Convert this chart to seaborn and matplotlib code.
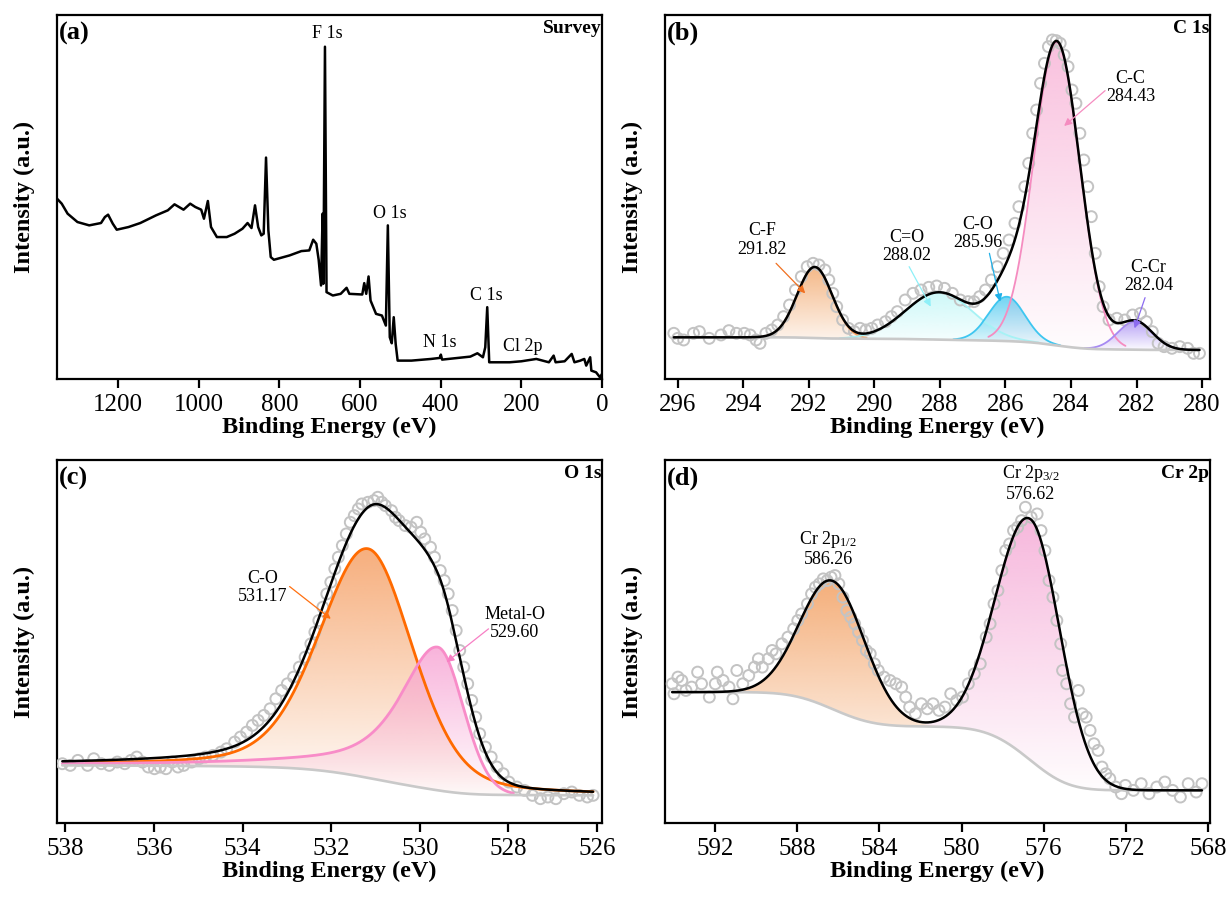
import numpy as np
import matplotlib
matplotlib.use("Agg")
import matplotlib.pyplot as plt
import matplotlib.colors as mcolors
from matplotlib.path import Path
from matplotlib.patches import PathPatch
import seaborn as sns

# ---------------- data ----------------
SURVEY_BE = [1351, 1339.3, 1324.7, 1300.3, 1271.1, 1241.9, 1232.2, 1224.3, 1212.7, 1202.9,
             1173.7, 1144.5, 1105.5, 1076.3, 1059.7, 1037.3, 1020.8, 1008.1, 993.5, 986.7,
             977.0, 969.2, 954.6, 930.2, 910.7, 891.2, 878.6, 868.8, 860.1, 852.3,
             844.5, 838.6, 832.8, 827.0, 821.1, 813.3, 774.4, 745.1, 725.6, 715.9,
             708.1, 702.3, 696.4, 692.5, 690.6, 686.7, 682.8, 667.2, 647.7, 633.1,
             626.3, 594.2, 589.3, 584.4, 578.6, 573.7, 560.1, 545.5, 535.7, 530.8,
             526.0, 521.1, 516.2, 511.4, 506.5, 472.4, 423.7, 402.3, 399.4, 396.4,
             326.3, 308.8, 295.1, 289.3, 284.4, 279.5, 228.9, 199.7, 162.7, 131.5,
             119.8, 114.9, 92.5, 75.0, 68.2, 53.6, 43.8, 39.0, 29.2, 26.3,
             14.6, 4.9, 0.0]
SURVEY_INT = [54.0, 52.5, 49.5, 47.0, 46.0, 46.7, 48.5, 49.2, 46.5, 44.7,
              45.5, 46.7, 49.0, 50.5, 52.3, 50.7, 52.5, 51.5, 50.7, 48.0,
              53.3, 45.5, 42.5, 42.5, 43.5, 45.0, 46.7, 45.2, 52.0, 45.5,
              43.0, 43.5, 66.3, 44.5, 36.5, 35.7, 37.0, 38.3, 38.5, 41.7,
              40.5, 35.7, 28.0, 49.5, 28.5, 99.5, 26.0, 25.0, 25.5, 27.3,
              25.5, 25.3, 28.7, 25.5, 30.7, 23.5, 19.5, 19.0, 16.0, 46.0,
              12.5, 10.7, 18.5, 10.5, 5.5, 5.5, 6.0, 6.3, 7.3, 5.8,
              6.7, 7.7, 6.5, 9.5, 21.5, 5.0, 5.0, 5.3, 6.0, 5.0,
              7.0, 5.0, 5.3, 7.5, 5.0, 5.5, 6.0, 4.0, 6.5, 2.5,
              2.0, 0.5, 1.5]
SURVEY_LABELS = ["F 1s", "O 1s", "C 1s", "N 1s", "Cl 2p"]

C1S_BE = [296.12, 296.00, 295.82, 295.52, 295.34, 295.04, 294.68, 294.44, 294.21, 293.97,
          293.79, 293.61, 293.49, 293.31, 293.13, 292.95, 292.77, 292.59, 292.41, 292.23,
          292.05, 291.87, 291.69, 291.51, 291.39, 291.27, 291.15, 290.97, 290.79, 290.61,
          290.44, 290.26, 290.08, 289.90, 289.66, 289.48, 289.30, 289.06, 288.82, 288.58,
          288.34, 288.10, 287.86, 287.62, 287.38, 287.14, 286.96, 286.79, 286.61, 286.43,
          286.25, 286.07, 285.89, 285.71, 285.59, 285.41, 285.29, 285.17, 285.05, 284.93,
          284.81, 284.69, 284.57, 284.45, 284.33, 284.21, 284.09, 283.97, 283.85, 283.73,
          283.61, 283.49, 283.38, 283.26, 283.14, 283.02, 282.84, 282.60, 282.36, 282.12,
          281.88, 281.70, 281.52, 281.34, 281.16, 280.92, 280.68, 280.44, 280.26, 280.08]
C1S_INT = [13.7, 12.2, 11.7, 13.7, 14.2, 12.2, 13.2, 14.5, 13.7, 13.7,
           13.2, 11.7, 10.7, 13.7, 14.7, 16.2, 18.7, 22.2, 26.7, 30.7,
           33.7, 34.7, 34.2, 32.7, 29.7, 25.7, 21.7, 17.7, 15.2, 14.2,
           15.2, 14.7, 15.2, 16.2, 17.2, 18.7, 20.2, 23.7, 25.7, 26.7,
           27.5, 27.9, 27.2, 25.7, 23.7, 23.2, 23.2, 24.7, 26.7, 29.7,
           33.7, 37.7, 41.7, 46.7, 51.7, 57.7, 64.7, 73.7, 80.7, 88.7,
           94.7, 99.7, 101.7, 101.5, 100.7, 97.2, 93.7, 86.7, 82.7, 73.7,
           65.7, 57.7, 48.7, 37.7, 27.7, 21.7, 17.7, 18.2, 17.7, 19.2,
           19.7, 17.2, 14.2, 10.7, 9.7, 9.2, 9.7, 9.2, 7.7, 7.7]
C1S_PEAKS = ["C-F", "C=O", "C-O", "C-C", "C-Cr"]
C1S_CENTER = [291.82, 288.02, 285.96, 284.43, 282.04]
C1S_HEIGHT = [21.3, 14.2, 13.3, 91.0, 8.5]
C1S_HWHM_HI = [0.63, 1.20, 0.65, 0.83, 0.62]
C1S_HWHM_LO = [0.63, 1.20, 0.65, 0.83, 0.62]
C1S_ETA_HI = [0.0, 0.0, 0.0, 0.0, 0.0]
C1S_ETA_LO = [0.0, 0.0, 0.0, 0.0, 0.0]
C1S_BACKGROUND = [12.5, 8.7]   # high-BE level, low-BE level

O1S_BE = [538.07, 537.89, 537.72, 537.50, 537.36, 537.19, 537.01, 536.83, 536.66, 536.52,
          536.39, 536.26, 536.13, 535.99, 535.86, 535.73, 535.59, 535.46, 535.33, 535.15,
          534.98, 534.84, 534.67, 534.49, 534.36, 534.18, 534.05, 533.91, 533.78, 533.65,
          533.52, 533.38, 533.25, 533.12, 532.99, 532.85, 532.72, 532.59, 532.46, 532.37,
          532.28, 532.19, 532.10, 532.01, 531.92, 531.84, 531.75, 531.66, 531.57, 531.48,
          531.39, 531.31, 531.17, 531.04, 530.95, 530.86, 530.78, 530.64, 530.55, 530.47,
          530.33, 530.20, 530.07, 529.98, 529.89, 529.76, 529.67, 529.54, 529.45, 529.36,
          529.27, 529.18, 529.10, 529.01, 528.92, 528.83, 528.74, 528.65, 528.52, 528.39,
          528.26, 528.12, 527.99, 527.81, 527.64, 527.46, 527.28, 527.11, 526.93, 526.75,
          526.57, 526.40, 526.22, 526.09]
O1S_INT = [17.8, 17.3, 18.8, 17.3, 19.3, 17.8, 17.3, 18.3, 17.8, 18.8,
           19.8, 18.3, 16.8, 16.3, 16.8, 16.3, 18.3, 16.8, 17.3, 18.3,
           19.3, 19.8, 20.3, 21.3, 22.3, 24.3, 25.8, 27.3, 29.3, 30.8,
           32.3, 34.3, 37.3, 39.8, 41.8, 43.8, 46.8, 49.8, 53.8, 57.3,
           60.8, 64.8, 68.8, 72.3, 76.3, 79.8, 83.3, 86.8, 90.3, 92.3,
           94.3, 95.8, 96.3, 96.8, 97.8, 96.3, 95.3, 93.8, 91.8, 90.8,
           89.3, 88.8, 90.3, 87.3, 85.3, 82.8, 79.8, 75.8, 72.8, 68.8,
           63.8, 57.8, 51.8, 46.8, 41.8, 36.8, 31.8, 26.8, 22.8, 19.8,
           16.8, 14.8, 12.3, 10.8, 9.8, 8.3, 7.3, 7.8, 7.3, 8.8,
           9.3, 8.3, 7.8, 8.3]
O1S_PEAKS = ["C-O", "Metal-O"]
O1S_CENTER = [531.17, 529.60]
O1S_HEIGHT = [68.8, 43.0]
O1S_HWHM_HI = [1.30, 1.05]
O1S_HWHM_LO = [1.20, 0.68]
O1S_ETA_HI = [0.3, 0.8]
O1S_ETA_LO = [0.3, 0.0]
O1S_BACKGROUND = [17.3, 8.3]

CR2P_BE = [594.10, 594.01, 593.82, 593.63, 593.43, 593.15, 592.86, 592.67, 592.29, 592.00,
           591.90, 591.62, 591.33, 591.14, 590.95, 590.66, 590.37, 590.09, 589.90, 589.71,
           589.42, 589.23, 589.04, 588.75, 588.46, 588.18, 587.98, 587.79, 587.51, 587.31,
           587.12, 586.93, 586.74, 586.55, 586.36, 586.17, 585.98, 585.78, 585.59, 585.40,
           585.21, 585.02, 584.83, 584.64, 584.45, 584.25, 584.06, 583.78, 583.49, 583.20,
           582.92, 582.72, 582.53, 582.25, 581.96, 581.67, 581.39, 581.10, 580.81, 580.53,
           580.24, 579.95, 579.67, 579.38, 579.09, 578.80, 578.61, 578.42, 578.23, 578.04,
           577.85, 577.66, 577.47, 577.27, 577.08, 576.89, 576.61, 576.32, 576.13, 575.94,
           575.74, 575.55, 575.36, 575.17, 575.08, 574.88, 574.69, 574.50, 574.31, 574.12,
           573.93, 573.74, 573.55, 573.35, 573.16, 572.97, 572.78, 572.49, 572.21, 572.02,
           571.63, 571.25, 570.87, 570.49, 570.10, 569.72, 569.34, 568.96, 568.57, 568.29]
CR2P_INT = [41.8, 38.8, 43.8, 42.8, 39.8, 40.8, 45.3, 41.8, 37.8, 41.8,
            45.3, 42.8, 40.8, 37.3, 45.8, 41.8, 44.3, 46.8, 49.3, 46.8,
            49.3, 51.8, 50.8, 53.8, 55.8, 58.3, 60.8, 62.8, 65.8, 68.8,
            70.8, 71.8, 73.3, 72.8, 73.8, 74.3, 71.8, 67.8, 63.8, 61.8,
            59.8, 57.3, 54.8, 51.8, 50.8, 47.8, 45.8, 43.8, 42.8, 41.8,
            40.8, 37.8, 34.8, 32.8, 35.8, 34.3, 35.8, 33.8, 34.8, 38.8,
            36.8, 37.8, 41.8, 44.8, 47.8, 55.8, 59.8, 65.8, 69.8, 75.8,
            81.8, 83.8, 87.8, 88.8, 90.8, 94.8, 91.8, 92.8, 87.8, 81.8,
            72.8, 67.8, 60.8, 53.8, 45.8, 41.8, 35.8, 31.8, 39.8, 32.8,
            31.8, 27.8, 23.8, 21.8, 16.8, 14.8, 13.3, 10.8, 8.8, 11.3,
            9.8, 11.8, 8.8, 10.8, 12.3, 9.8, 7.8, 11.8, 9.3, 11.8]
CR2P_PEAKS = ["Cr 2p$_{1/2}$", "Cr 2p$_{3/2}$"]
CR2P_CENTER = [586.26, 576.62]
CR2P_HEIGHT = [38.5, 72.4]
CR2P_HWHM_HI = [1.85, 1.95]
CR2P_HWHM_LO = [1.85, 1.70]
CR2P_ETA_HI = [0.0, 0.0]
CR2P_ETA_LO = [0.0, 0.0]
CR2P_BACKGROUND = [39.3, 9.8]

# ---------------- style ----------------
sns.set_theme(style="ticks")
plt.rcParams.update({
    "font.family": ["Liberation Serif", "DejaVu Serif"],
    "mathtext.fontset": "custom",
    "mathtext.rm": "Liberation Serif",
    "mathtext.it": "Liberation Serif:italic",
    "mathtext.bf": "Liberation Serif:bold",
    "mathtext.default": "regular",
    "axes.linewidth": 1.6,
    "axes.edgecolor": "black",
    "text.color": "black",
    "axes.labelcolor": "black",
    "xtick.color": "black",
    "ytick.color": "black",
})

TICK_FS = 18
LABEL_FS = 17.5
NOTE_FS = 13

fig = plt.figure(figsize=(12.31, 8.97), dpi=100)
ax_a = fig.add_axes([0.0463, 0.5775, 0.4427, 0.4058])
ax_b = fig.add_axes([0.5402, 0.5775, 0.4427, 0.4058])
ax_c = fig.add_axes([0.0463, 0.0825, 0.4427, 0.4047])
ax_d = fig.add_axes([0.5402, 0.0825, 0.4427, 0.4047])


def style_axes(ax, xlim, ylim, ticks, tag, title):
    ax.set_xlim(*xlim)
    ax.set_ylim(*ylim)
    ax.set_xticks(ticks)
    ax.set_xticklabels([str(t) for t in ticks])
    ax.set_yticks([])
    ax.tick_params(axis="x", direction="out", length=6.5, width=1.6,
                   labelsize=TICK_FS, pad=4, colors="black", top=False)
    for s in ax.spines.values():
        s.set_visible(True)
        s.set_color("black")
        s.set_linewidth(1.6)
    ax.set_xlabel("Binding Energy (eV)", fontsize=LABEL_FS, fontweight="bold",
                  labelpad=1, color="black")
    ax.set_ylabel("Intensity (a.u.)", fontsize=LABEL_FS, fontweight="bold",
                  labelpad=16, color="black")
    ax.text(0.004, 0.982, tag, transform=ax.transAxes, ha="left", va="top",
            fontsize=19, fontweight="bold", color="black")
    ax.text(0.999, 0.985, title, transform=ax.transAxes, ha="right", va="top",
            fontsize=14, fontweight="bold", color="black")
    ax.set_facecolor("white")


def pseudo_voigt(x, c, h, w_hi, w_lo, e_hi, e_lo):
    hi = x >= c
    w = np.where(hi, w_hi, w_lo)
    eta = np.where(hi, e_hi, e_lo)
    d = (x - c) / w
    return h * (eta / (1.0 + d ** 2) + (1.0 - eta) * np.exp(-np.log(2) * d ** 2))


def gradient_fill(ax, x, y0, y1, color, a0, a1, z):
    verts = np.concatenate([np.column_stack([x, y1]),
                            np.column_stack([x[::-1], y0[::-1]])])
    patch = PathPatch(Path(verts), facecolor="none", edgecolor="none",
                      transform=ax.transData)
    ax.add_patch(patch)
    rgb = mcolors.to_rgb(color)
    img = np.zeros((256, 1, 4))
    img[..., :3] = rgb
    img[:, 0, 3] = np.linspace(a0, a1, 256)
    im = ax.imshow(img, extent=[x.min(), x.max(), y0.min(), y1.max()],
                   origin="lower", aspect="auto", zorder=z,
                   interpolation="bilinear")
    im.set_clip_path(patch)


def fit_panel(ax, be, inten, centers, heights, whi, wlo, ehi, elo, bgl,
              fill_colors, line_colors, line_w, top_alpha):
    be = np.asarray(be)
    xs = np.linspace(be.min(), be.max(), 1500)
    comps = [pseudo_voigt(xs, c, h, a, b, e1, e2)
             for c, h, a, b, e1, e2 in zip(centers, heights, whi, wlo, ehi, elo)]
    total = np.sum(comps, axis=0)
    cum = np.concatenate([[0.0], np.cumsum((total[1:] + total[:-1]) / 2 * np.diff(xs))])
    bg_hi, bg_lo = bgl
    bg = bg_lo + (bg_hi - bg_lo) * cum / cum[-1]
    for comp, fc in zip(comps, fill_colors):
        gradient_fill(ax, xs, bg, bg + comp, fc, 0.03, top_alpha, 1)
    sns.scatterplot(x=be, y=inten, ax=ax, marker="o", s=62,
                    facecolor="none", edgecolor="#c3c3c3", linewidth=1.4,
                    zorder=3)
    for comp, h, lc in zip(comps, heights, line_colors):
        if lc is not None:
            keep = comp > 0.012 * h
            sns.lineplot(x=xs[keep], y=(bg + comp)[keep], ax=ax, color=lc, lw=line_w,
                         sort=False, estimator=None, zorder=4)
    sns.lineplot(x=xs, y=bg, ax=ax, color="#c9c9c9", lw=1.9, sort=False,
                 estimator=None, zorder=4.5)
    sns.lineplot(x=xs, y=bg + total, ax=ax, color="black", lw=1.8,
                 sort=False, estimator=None, zorder=6)


def note(ax, text, tx, ty, tail, head, color):
    ax.text(tx, ty, text, ha="center", va="center", fontsize=NOTE_FS,
            linespacing=1.1, zorder=8, color="black")
    if tail is not None:
        ax.annotate("", xy=head, xytext=tail, zorder=8,
                    arrowprops=dict(arrowstyle="-|>", color=color, lw=0.9,
                                    mutation_scale=11, shrinkA=0, shrinkB=0))


# ---------------- (a) survey ----------------
sns.lineplot(x=SURVEY_BE, y=SURVEY_INT, ax=ax_a, color="black", lw=1.8,
             sort=False, estimator=None)
survey_pos = [(681.8, 103.5), (526.0, 49.5), (287.3, 25.0), (402.0, 11.0), (196.8, 9.7)]
for lab, (px, py) in zip(SURVEY_LABELS, survey_pos):
    ax_a.text(px, py, lab, ha="center", va="center", fontsize=NOTE_FS, color="black")
style_axes(ax_a, (1351, 0), (0, 109), [1200, 1000, 800, 600, 400, 200, 0], "(a)", "Survey")

# ---------------- (b) C 1s ----------------
fit_panel(ax_b, C1S_BE, C1S_INT, C1S_CENTER, C1S_HEIGHT, C1S_HWHM_HI, C1S_HWHM_LO,
          C1S_ETA_HI, C1S_ETA_LO, C1S_BACKGROUND,
          ["#f09a55", "#b8f6f6", "#33c1ee", "#f7a6d0", "#9a7cf2"],
          ["#f5a060", "#a6f2f5", "#3ec6f0", "#f58cc0", "#a78af2"], 1.3, 0.7)
c1s_layout = [
    (293.43, 41.7, (293.0, 34.7), (292.11, 25.7), "#f07020"),
    (289.00, 39.7, (288.94, 33.7), (288.28, 21.7), "#8ef0f8"),
    (286.85, 43.7, (286.49, 37.7), (286.16, 23.2), "#20b0e8"),
    (282.18, 87.5, (282.96, 86.5), (284.21, 75.9), "#f58cc0"),
    (281.64, 30.7, (281.74, 24.4), (282.06, 15.2), "#8c6cf0"),
]
for lab, cen, (tx, ty, tail, head, col) in zip(C1S_PEAKS, C1S_CENTER, c1s_layout):
    note(ax_b, f"{lab}\n{cen:.2f}", tx, ty, tail, head, col)
style_axes(ax_b, (296.39, 279.76), (0, 109.2), [296, 294, 292, 290, 288, 286, 284, 282, 280],
           "(b)", "C 1s")

# ---------------- (c) O 1s ----------------
fit_panel(ax_c, O1S_BE, O1S_INT, O1S_CENTER, O1S_HEIGHT, O1S_HWHM_HI, O1S_HWHM_LO,
          O1S_ETA_HI, O1S_ETA_LO, O1S_BACKGROUND,
          ["#f59a5c", "#f7a0d2"], ["#ff6a00", "#f88cc8"], 2.0, 0.8)
o1s_layout = [
    (533.54, 70.8, (532.94, 71.0), (532.01, 61.3), "#ff7010"),
    (527.86, 59.8, (528.45, 58.3), (529.40, 48.3), "#f77fc4"),
]
for lab, cen, (tx, ty, tail, head, col) in zip(O1S_PEAKS, O1S_CENTER, o1s_layout):
    note(ax_c, f"{lab}\n{cen:.2f}", tx, ty, tail, head, col)
style_axes(ax_c, (538.19, 525.89), (0, 109), [538, 536, 534, 532, 530, 528, 526],
           "(c)", "O 1s")

# ---------------- (d) Cr 2p ----------------
fit_panel(ax_d, CR2P_BE, CR2P_INT, CR2P_CENTER, CR2P_HEIGHT, CR2P_HWHM_HI, CR2P_HWHM_LO,
          CR2P_ETA_HI, CR2P_ETA_LO, CR2P_BACKGROUND,
          ["#f29a58", "#f5a6d4"], [None, None], 1.0, 0.8)
cr_layout = [(586.49, 82.5), (576.64, 102.1)]
for lab, cen, (tx, ty) in zip(CR2P_PEAKS, CR2P_CENTER, cr_layout):
    note(ax_d, f"{lab}\n{cen:.2f}", tx, ty, None, None, None)
style_axes(ax_d, (594.45, 567.9), (0, 109), [592, 588, 584, 580, 576, 572, 568],
           "(d)", "Cr 2p")

for ax in (ax_a, ax_b, ax_c, ax_d):
    leg = ax.get_legend()
    if leg is not None:
        leg.remove()

fig.savefig("out.png", dpi=100, facecolor="white")
